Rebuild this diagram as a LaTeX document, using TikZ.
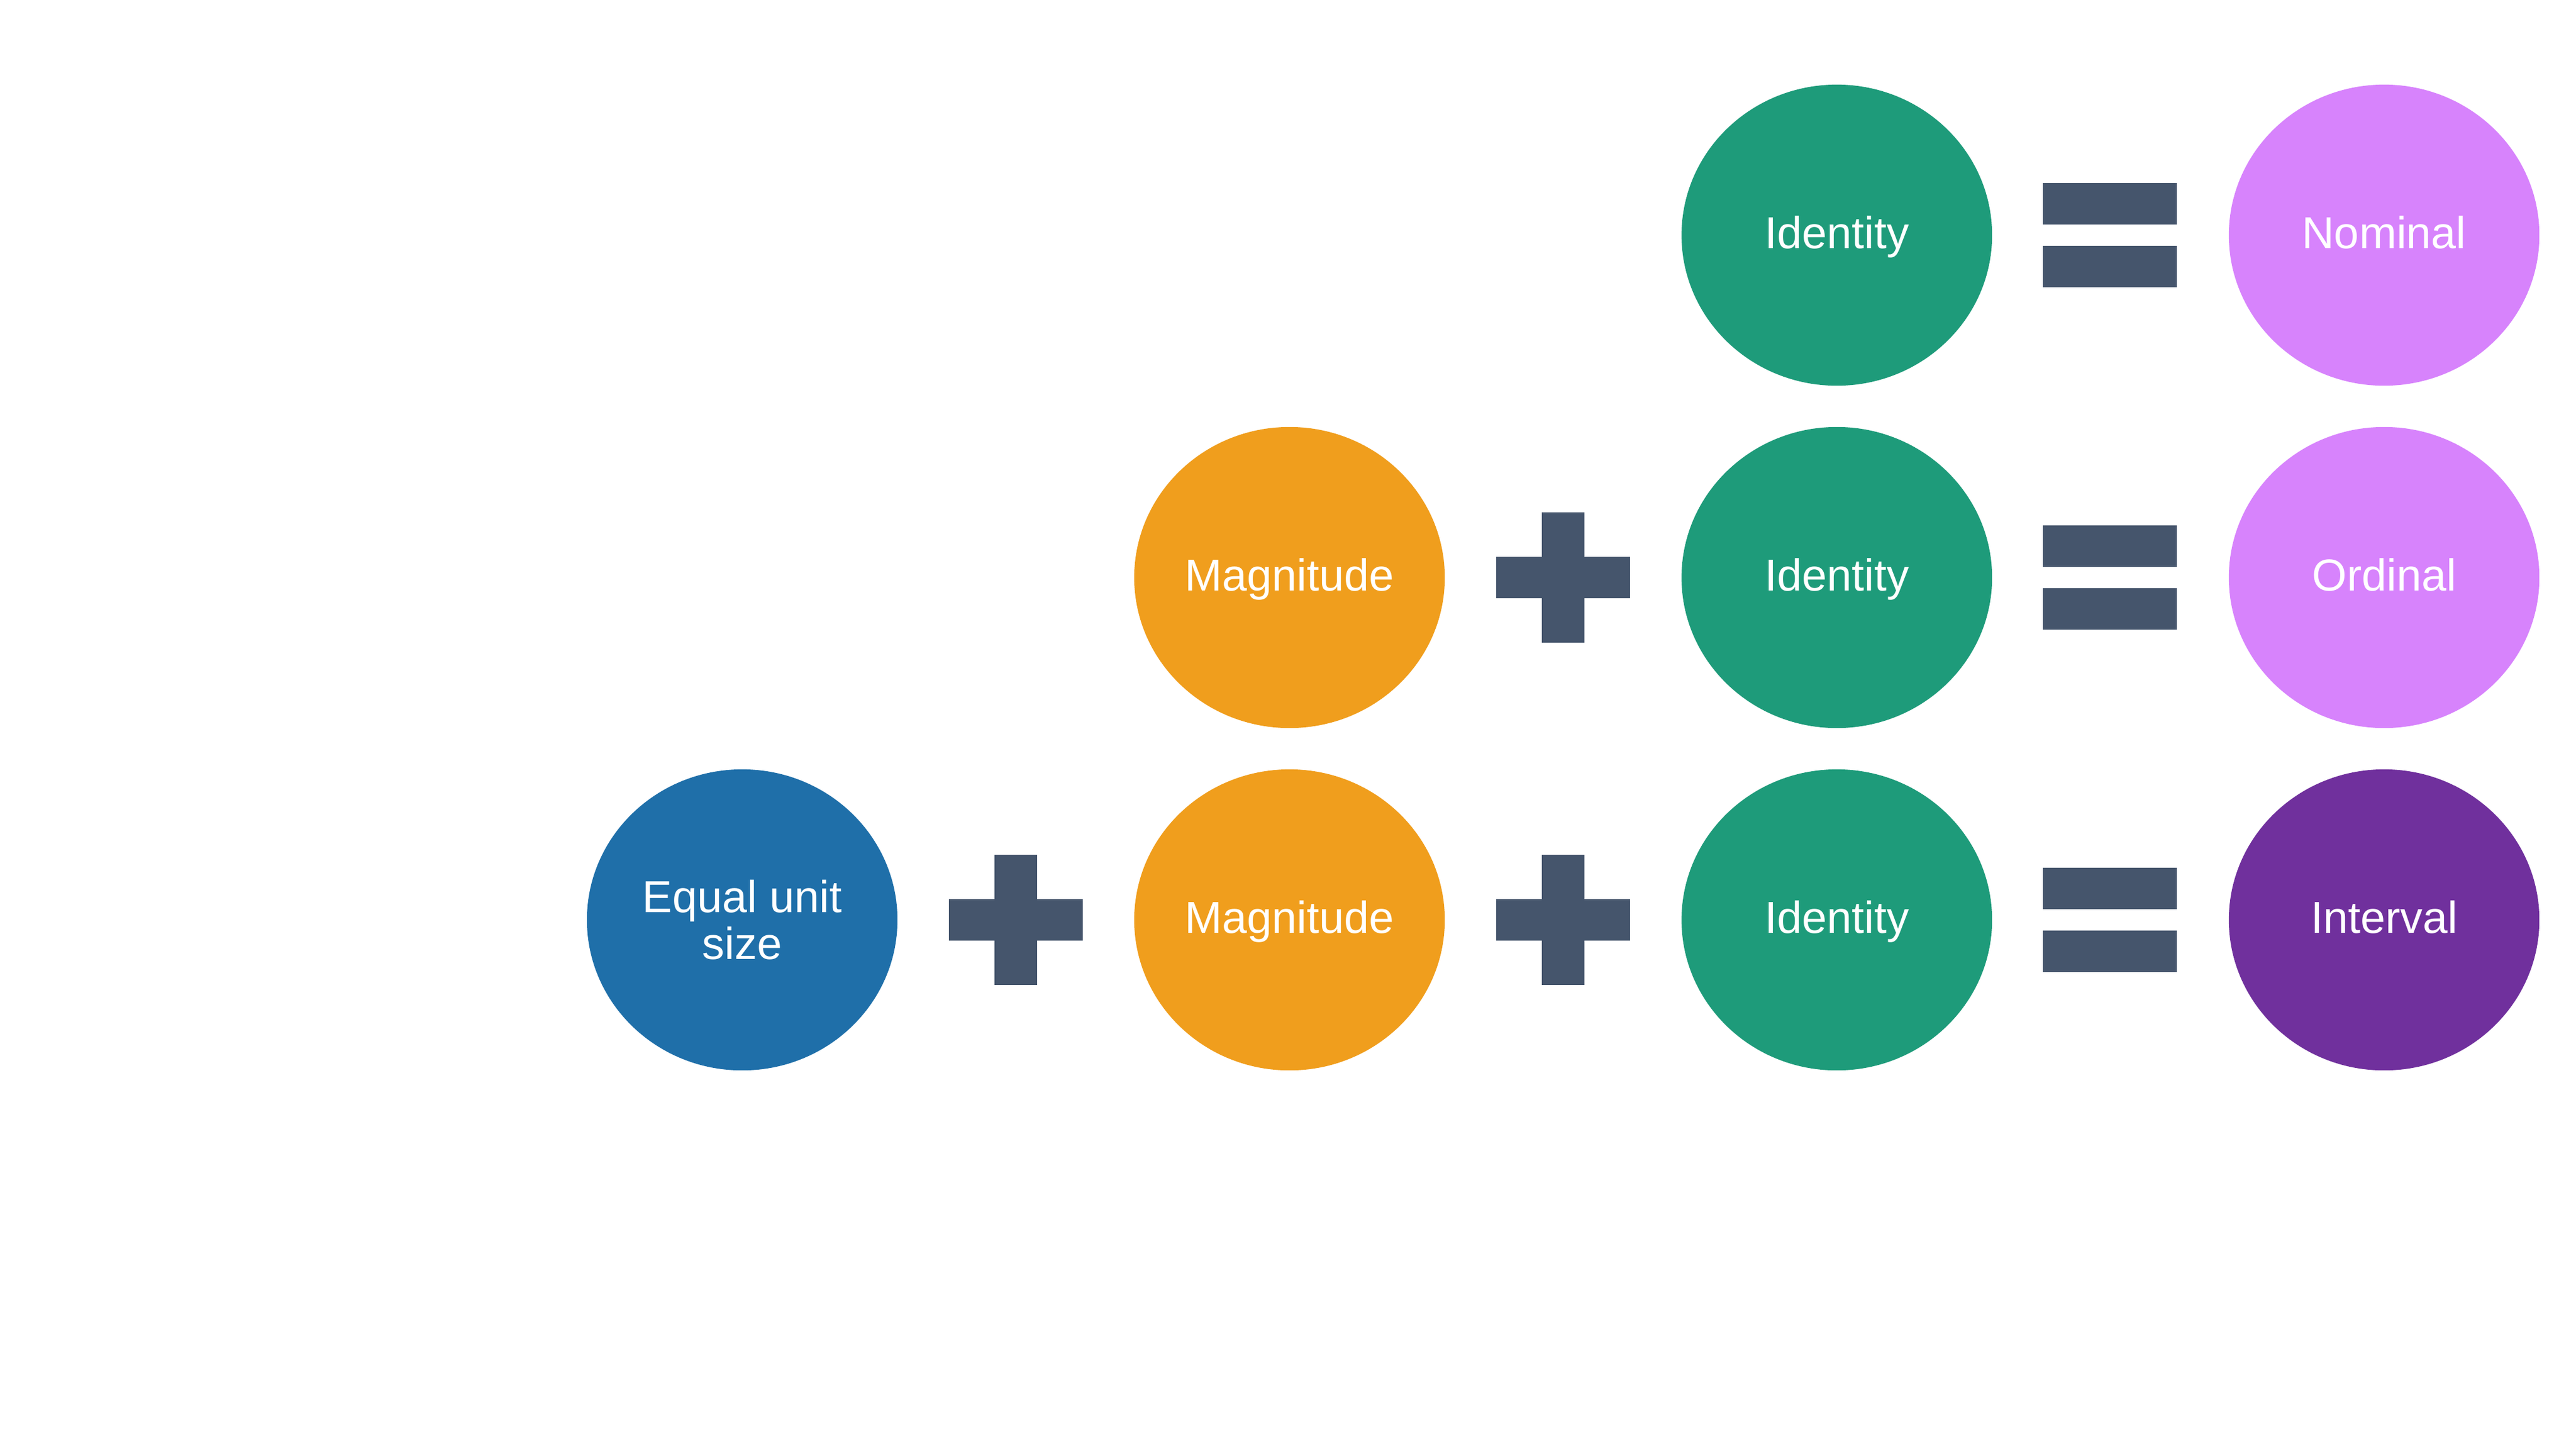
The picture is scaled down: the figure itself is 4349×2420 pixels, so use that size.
\documentclass[tikz,border=0pt]{standalone}
\usepackage{fontspec}
\setmainfont{Liberation Sans}
\usetikzlibrary{shapes.geometric}
\definecolor{cblue}{RGB}{31,111,169}
\definecolor{corange}{RGB}{240,158,29}
\definecolor{cgreen}{RGB}{30,155,122}
\definecolor{cpink}{RGB}{215,131,252}
\definecolor{cpurple}{RGB}{112,48,157}
\definecolor{cslate}{RGB}{69,85,108}
\begin{document}
\begin{tikzpicture}[x=0.01cm,y=-0.01cm,
  bubble/.style={ellipse,minimum width=5.24cm,minimum height=5.08cm,inner sep=0pt,text=white,
    font=\fontsize{21.5}{22.3}\selectfont,align=center},
  oneline/.style={text height=0.6cm,text depth=0.16cm},
  hbar/.style={rectangle,fill=cslate,inner sep=0pt,minimum width=2.26cm,minimum height=0.70cm},
  vbar/.style={rectangle,fill=cslate,inner sep=0pt,minimum width=0.72cm,minimum height=2.19cm}]
\useasboundingbox (0,0) rectangle (4349,2420);
\fill[white] (0,0) rectangle (4349,2420);
% row 1
\node[bubble,oneline,fill=cgreen] (id1) at (3101,397) {Identity};
\node[bubble,oneline,fill=cpink] (nom) at (4025,397) {Nominal};
\node[hbar] (eq1a) at (3562,344) {};
\node[hbar] (eq1b) at (3562,450) {};
% row 2
\node[bubble,oneline,fill=corange] (mag2) at (2177,975) {Magnitude};
\node[bubble,oneline,fill=cgreen] (id2) at (3101,975) {Identity};
\node[bubble,oneline,fill=cpink] (ord) at (4025,975) {Ordinal};
\node[hbar] (pl2h) at (2639,975) {};
\node[vbar] (pl2v) at (2639,975) {};
\node[hbar] (eq2a) at (3562,922) {};
\node[hbar] (eq2b) at (3562,1028) {};
% row 3
\node[bubble,fill=cblue] (eq) at (1253,1553) {Equal unit\\size};
\node[bubble,oneline,fill=corange] (mag3) at (2177,1553) {Magnitude};
\node[bubble,oneline,fill=cgreen] (id3) at (3101,1553) {Identity};
\node[bubble,oneline,fill=cpurple] (int) at (4025,1553) {Interval};
\node[hbar] (pl3h) at (1715,1553) {};
\node[vbar] (pl3v) at (1715,1553) {};
\node[hbar] (pl4h) at (2639,1553) {};
\node[vbar] (pl4v) at (2639,1553) {};
\node[hbar] (eq3a) at (3562,1500) {};
\node[hbar] (eq3b) at (3562,1606) {};
\end{tikzpicture}
\end{document}
